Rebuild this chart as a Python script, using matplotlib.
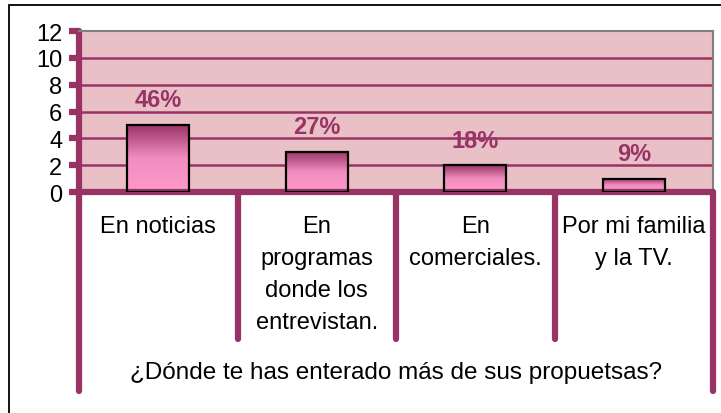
import matplotlib.pyplot as plt
import numpy as np
from matplotlib.colors import LinearSegmentedColormap
from matplotlib.patches import Rectangle

plt.rcParams['font.family'] = ['Liberation Sans', 'DejaVu Sans']

# data
categories = ['En noticias', 'En\nprogramas\ndonde los\nentrevistan.',
              'En\ncomerciales.', 'Por mi familia\ny la TV.']
counts = [5, 3, 2, 1]
pct_labels = ['46%', '27%', '18%', '9%']
y_ticks = [0, 2, 4, 6, 8, 10, 12]
x_title = '¿Dónde te has enterado más de sus propuetsas?'

PLUM = '#993366'
BG = '#E9C0C6'
FONT = 17

fig = plt.figure(figsize=(7.21, 4.14), dpi=100)
ax = fig.add_axes([79 / 721, 1 - 193 / 414, 634 / 721, 161 / 414])
ax.set_facecolor(BG)

# outer frame
fig.patches.append(Rectangle((9 / 721, -0.05), 1.1, 1 - 6 / 414 + 0.05,
                             transform=fig.transFigure, fill=False,
                             edgecolor='black', linewidth=1.3))

x = np.arange(len(categories))

for yv in y_ticks[1:-1]:
    ax.axhline(yv, color=PLUM, linewidth=1.8, zorder=1)

# gradient bars
cmap = LinearSegmentedColormap.from_list('plum', ['#FF99CC', '#F28DC0', PLUM])
grad = np.linspace(0, 1, 256).reshape(-1, 1)
bars = ax.bar(x, counts, width=0.39, facecolor='none', edgecolor='black',
              linewidth=1.6, zorder=3)
for b in bars:
    x0, y0, w, h = b.get_x(), b.get_y(), b.get_width(), b.get_height()
    im = ax.imshow(grad, cmap=cmap, aspect='auto', origin='lower',
                   extent=[x0, x0 + w, y0, y0 + h], zorder=2)
    im.set_clip_path(b)
ax.set_xlim(-0.5, len(categories) - 0.5)
ax.set_ylim(0, 12)

for xi, c, lab in zip(x, counts, pct_labels):
    ax.annotate(lab, (xi, c), xytext=(0, 25), textcoords='offset pixels',
                ha='center', va='center', fontsize=FONT, fontweight='bold',
                color=PLUM)

# spines
for s in ['top', 'right']:
    ax.spines[s].set_color('#808080')
    ax.spines[s].set_linewidth(1.5)
for s in ['left', 'bottom']:
    ax.spines[s].set_color(PLUM)
    ax.spines[s].set_linewidth(4.5)
    ax.spines[s].set_capstyle('round')

ax.set_yticks(y_ticks)
ax.tick_params(axis='y', length=7, width=4.5, color=PLUM, labelsize=FONT,
               pad=5)
ax.set_xticks([])

# category dividers below the axis
tr = ax.get_xaxis_transform()
edges = np.arange(len(categories) + 1) - 0.5
for i, e in enumerate(edges):
    bottom = -1.236 if i in (0, len(edges) - 1) else -0.913
    ax.plot([e, e], [0, bottom], color=PLUM, linewidth=4.5, transform=tr,
            clip_on=False, solid_capstyle='round', zorder=5)

for xi, lab in zip(x, categories):
    ax.text(xi, -0.14, lab, transform=tr, ha='center', va='top',
            fontsize=FONT, linespacing=1.6)

ax.text(np.mean(x), -1.118, x_title, transform=tr, ha='center',
        va='center', fontsize=17.5)

fig.savefig('out.png', dpi=100)
